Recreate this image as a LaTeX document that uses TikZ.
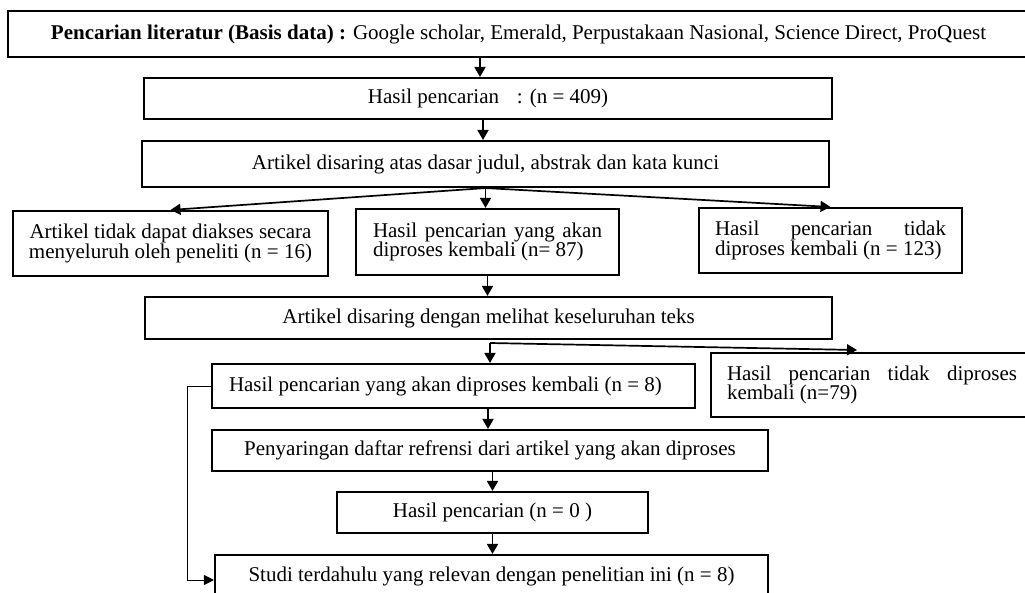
\documentclass[tikz,border=0pt]{standalone}
\usepackage{fontspec}
\setmainfont{Liberation Serif}
\usetikzlibrary{arrows.meta}
\tikzset{
  every node/.style={font=\fontsize{21pt}{19.5pt}\selectfont},
  box/.style 2 args={draw, line width=2.1pt, inner sep=0pt,
    minimum width=#1, minimum height=#2, align=center},
  flow/.style={line width=1.7pt, -{Triangle[length=10pt,width=11pt]}},
  back/.style={line width=1pt, -{Triangle[length=10pt,width=10pt]}}
}
\begin{document}
\begin{tikzpicture}[x=1pt,y=-1pt]
\clip (0,0) rectangle (1025,592);
\fill[white] (0,0) rectangle (1025,592);

% boxes
\node[box={1021pt}{46pt}] (b1) at (518.5,34)
  {\textbf{Pencarian literatur (Basis data) :} Google scholar, Emerald, Perpustakaan Nasional, Science Direct, ProQuest};
\node[box={688pt}{41pt}] (b2) at (488,98.5) {Hasil pencarian\hspace{0.85em}: (n = 409)};
\node[box={687pt}{46pt}] (b3) at (485.5,164) {Artikel disaring atas dasar judul, abstrak dan kata kunci};

\node[box={315pt}{65pt}] (b4a) at (170.5,243.5)
  {\makebox[282pt][s]{Artikel tidak dapat diakses secara}\\\makebox[282pt][c]{menyeluruh oleh peneliti (n = 16)}};
\node[box={263pt}{66pt}, align=left] (b4b) at (487.5,242)
  {\makebox[229pt][s]{Hasil pencarian yang akan}\\\makebox[229pt][l]{diproses kembali (n= 87)}};
\node[box={263pt}{65pt}, align=left] (b4c) at (830.5,240.5)
  {\makebox[231pt][s]{Hasil pencarian tidak}\\\makebox[231pt][l]{diproses kembali (n = 123)}};

\node[box={687pt}{42pt}] (b5) at (488.5,318) {Artikel disaring dengan melihat keseluruhan teks};

\node[box={483pt}{44pt}, align=left] (b6a) at (453.5,386)
  {\makebox[449pt][l]{Hasil pencarian yang akan diproses kembali (n = 8)}};
\node[box={322pt}{64pt}, align=left] (b6b) at (872,385)
  {\makebox[290pt][s]{Hasil pencarian tidak diproses}\\\makebox[290pt][l]{kembali (n=79)}};

\node[box={556pt}{41pt}] (b7) at (490,450.5) {Penyaringan daftar refrensi dari artikel yang akan diproses};
\node[box={311pt}{41pt}] (b8) at (492.5,512.5) {Hasil pencarian (n = 0 )};
\node[box={553pt}{42pt}] (b9) at (491.5,576) {Studi terdahulu yang relevan dengan penelitian ini (n = 8)};

% connector positions
\coordinate (a1) at (480,0);
\coordinate (a2) at (483,0);
\coordinate (j2) at (490,343);
\coordinate (t2) at (857,350);
\coordinate (a6) at (488,0);
\coordinate (fb) at (187,0);

% connectors
\draw[flow] (b1.south -| a1) -- (b2.north -| a1);
\draw[flow] (b2.south -| a2) -- (b3.north -| a2);
\draw[flow] (b3.south) -- (b4a.north);
\draw[flow] (b3.south) -- (b3.south |- b4b.north);
\draw[flow] (b3.south) -- (b4c.north);
\draw[flow] (b4b.south) -- (b4b.south |- b5.north);
\draw[flow] (j2) -- (j2 |- b6a.north);
\draw[flow] (j2) -- (t2);
\draw[flow] (b6a.south -| a6) -- (b7.north -| a6);
\draw[flow] (b7.south -| b8.north) -- (b8.north);
\draw[flow] (b8.south) -- (b8.south |- b9.north);
\draw[back] (b6a.west) -- (b6a.west -| fb) |- ([yshift=-4pt]b9.west);
\end{tikzpicture}
\end{document}
